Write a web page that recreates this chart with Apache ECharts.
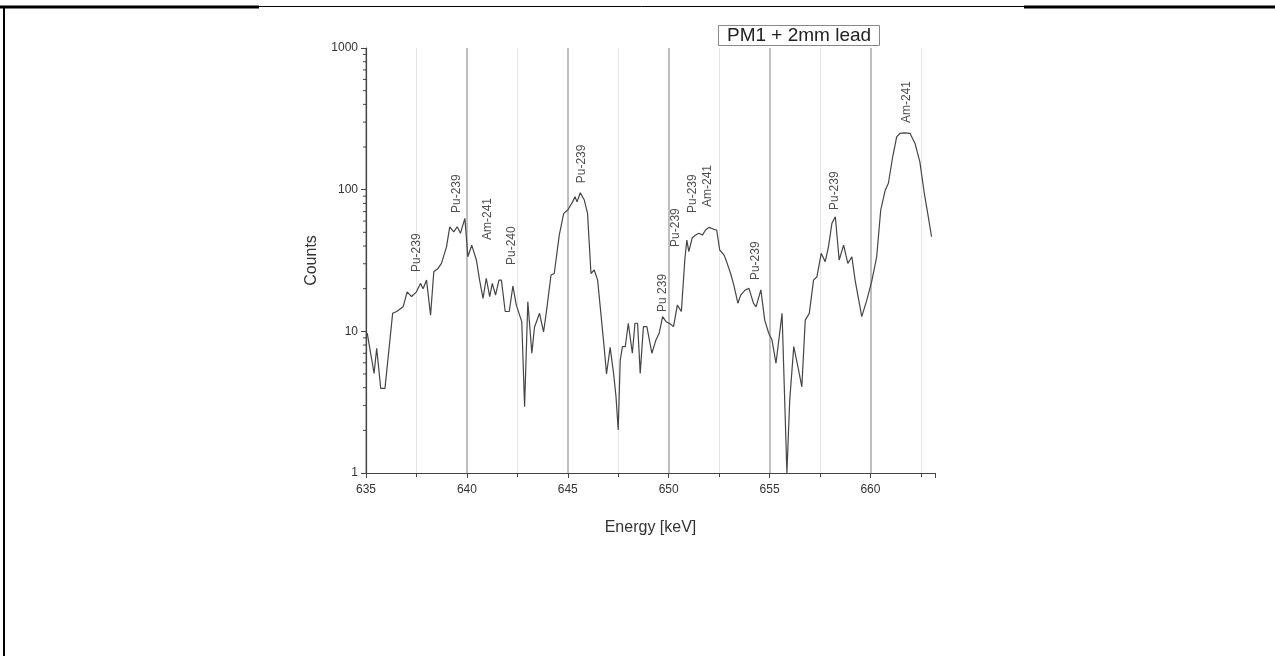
<!DOCTYPE html>
<html>
<head>
<meta charset="utf-8">
<script src="https://cdn.jsdelivr.net/npm/echarts@6/dist/echarts.min.js"></script>
<style>
html,body{margin:0;padding:0;background:#fff;}
#chart{width:1275px;height:656px;}
</style>
</head>
<body>
<div id="chart"></div>
<script>
// Energy (keV) of each spectrum point
const energy = [
635.06,635.40,635.53,635.73,635.94,636.32,636.52,636.84,637.04,637.26,
637.50,637.70,637.83,638.00,638.20,638.36,638.57,638.74,638.99,639.15,
639.35,639.52,639.68,639.90,640.05,640.24,640.47,640.63,640.80,640.96,
641.13,641.26,641.42,641.59,641.71,641.90,642.10,642.28,642.45,642.72,
642.86,643.02,643.22,643.35,643.60,643.80,643.93,644.17,644.33,644.58,
644.80,645.00,645.24,645.36,645.46,645.62,645.82,645.98,646.15,646.31,
646.48,646.64,646.80,646.92,647.10,647.27,647.39,647.50,647.60,647.71,
647.85,648.00,648.20,648.33,648.46,648.59,648.75,648.92,649.17,649.37,
649.53,649.70,649.87,650.07,650.24,650.43,650.63,650.80,650.90,651.00,
651.17,651.34,651.50,651.67,651.83,652.00,652.24,652.38,652.53,652.75,
652.90,653.07,653.23,653.43,653.57,653.80,653.98,654.20,654.33,654.57,
654.76,654.96,655.12,655.32,655.62,655.86,656.00,656.20,656.41,656.60,
656.77,656.97,657.18,657.35,657.56,657.76,657.92,658.09,658.26,658.45,
658.67,658.88,659.08,659.24,659.57,659.82,660.06,660.31,660.51,660.73,
660.89,661.09,661.30,661.47,661.68,661.96,662.21,662.45,662.67,662.87,
663.03
];
// Counts at each energy
const counts = [
9.7,5.05,7.6,3.96,3.96,13.4,13.8,14.9,19.0,17.6,
19.0,21.8,20.0,23.0,13.0,26.3,27.8,30.2,39.5,54.7,
50.3,54.7,49.2,62.7,33.6,40.6,31.9,23.0,17.1,23.7,
17.6,21.8,18.0,23.0,23.0,13.8,13.8,20.9,15.3,11.7,
2.94,16.2,7.0,10.7,13.4,9.9,13.4,25.0,25.6,48.0,
68,71.8,82,89,82,95,84.5,68,25.6,27.1,
23,13.4,7.8,5.0,7.7,5.05,3.46,2.01,6.27,7.8,
7.8,11.4,7.0,11.4,11.4,5.05,10.8,10.8,7.0,8.7,
9.7,12.7,11.7,11.3,10.8,15.3,13.8,31.9,44.1,36.5,
45.8,47.8,49.2,47.8,51.9,54.2,52.5,51.9,37.5,34.5,
30.2,25.6,21.2,15.8,18.0,19.6,20.1,15.8,14.9,19.6,
12.0,9.7,8.7,5.95,13.4,1.0,3.27,7.8,5.6,4.06,
12.0,13.4,23.0,24.3,35.5,31.0,39.5,57.8,64.4,31.9,
40.6,30.2,33.6,23.0,12.7,16.6,22.4,33.6,71.8,99,
111,166,236,250,252,250,212,157,94,64,
46.5
];
// Peak annotations: label, energy, count at the foot of the label
const peakNames  = ['Pu-239','Pu-239','Am-241','Pu-240','Pu-239','Pu 239','Pu-239','Pu-239','Am-241','Pu-239','Pu-239','Am-241'];
const peakEnergy = [637.52,639.50,641.03,642.20,645.67,649.72,650.37,651.20,651.95,654.32,658.22,661.78];
const peakFoot   = [26.2,68.4,44.1,29.4,111,13.7,39.4,68.4,75.4,23,71.8,295];
// Log-axis minor tick values
const yMinorTicks = [2,3,4,5,6,7,8,9,20,30,40,50,60,70,80,90,200,300,400,500,600,700,800,900];
const xTickInterval = 5;

const chart = echarts.init(document.getElementById('chart'));
const FONT = 'Liberation Sans, Arial, sans-serif';

const lineData = energy.map((e, i) => [e, counts[i]]);
const peakData = peakNames.map((n, i) => [peakEnergy[i], peakFoot[i], n]);
const minorData = yMinorTicks.map(v => [635, v]);

chart.setOption({
  animation: false,
  backgroundColor: '#fff',
  title: {
    text: 'PM1 + 2mm lead',
    left: 718, top: 25,
    padding: [1, 9, 1, 9],
    borderColor: '#888', borderWidth: 1,
    textStyle: {fontFamily: FONT, fontSize: 19, fontWeight: 'normal', color: '#222'}
  },
  grid: {left: 366, right: 340, top: 48, bottom: 183},
  xAxis: {
    type: 'value', min: 635, max: 663.2, interval: xTickInterval,
    name: 'Energy [keV]', nameLocation: 'middle', nameGap: 47,
    nameTextStyle: {fontFamily: FONT, fontSize: 16, color: '#333'},
    axisLine: {show: true, onZero: false, lineStyle: {color: '#444', width: 1.2}},
    axisTick: {show: true, length: 5, lineStyle: {color: '#444'}},
    minorTick: {show: true, splitNumber: 2, length: 4, lineStyle: {color: '#444'}},
    axisLabel: {fontFamily: FONT, fontSize: 12, color: '#333', margin: 11,
      showMaxLabel: false},
    splitLine: {show: true, showMaxLine: false, lineStyle: {color: '#aaa', width: 1.5}},
    minorSplitLine: {show: true, lineStyle: {color: '#e6e6e6', width: 1}}
  },
  yAxis: {
    type: 'log', logBase: 10, min: 1, max: 1000,
    name: 'Counts', nameLocation: 'middle', nameGap: 46,
    nameTextStyle: {fontFamily: FONT, fontSize: 16, color: '#333'},
    axisLine: {show: true, onZero: false, lineStyle: {color: '#444', width: 1.2}},
    axisTick: {show: true, length: 5, lineStyle: {color: '#444'}},
    axisLabel: {fontFamily: FONT, fontSize: 12, color: '#333', margin: 8,
      formatter: v => String(Math.round(v))},
    splitLine: {show: false}
  },
  series: [
    {
      type: 'line', data: lineData, showSymbol: false,
      lineStyle: {color: '#454545', width: 1.2}, z: 3
    },
    {
      type: 'scatter', data: peakData, symbolSize: 0, z: 4,
      label: {
        show: true, position: [0, 0], rotate: 90, align: 'left', verticalAlign: 'middle',
        formatter: p => p.data[2],
        fontFamily: FONT, fontSize: 12, color: '#222'
      }
    },
    {
      type: 'custom', data: minorData, clip: false, z: 5,
      renderItem: (params, api) => {
        const p = api.coord([api.value(0), api.value(1)]);
        return {type: 'line', shape: {x1: p[0] - 3, y1: p[1], x2: p[0], y2: p[1]},
          style: {stroke: '#444', lineWidth: 1}};
      }
    }
  ],
  graphic: [
    {type: 'line', shape: {x1: 0, y1: 7, x2: 259, y2: 7}, style: {stroke: '#000', lineWidth: 3}},
    {type: 'line', shape: {x1: 259, y1: 6.5, x2: 1024, y2: 6.5}, style: {stroke: '#000', lineWidth: 1}},
    {type: 'line', shape: {x1: 1024, y1: 7, x2: 1275, y2: 7}, style: {stroke: '#000', lineWidth: 3}},
    {type: 'line', shape: {x1: 4, y1: 6, x2: 4, y2: 656}, style: {stroke: '#000', lineWidth: 2}}
  ]
});
</script>
</body>
</html>
